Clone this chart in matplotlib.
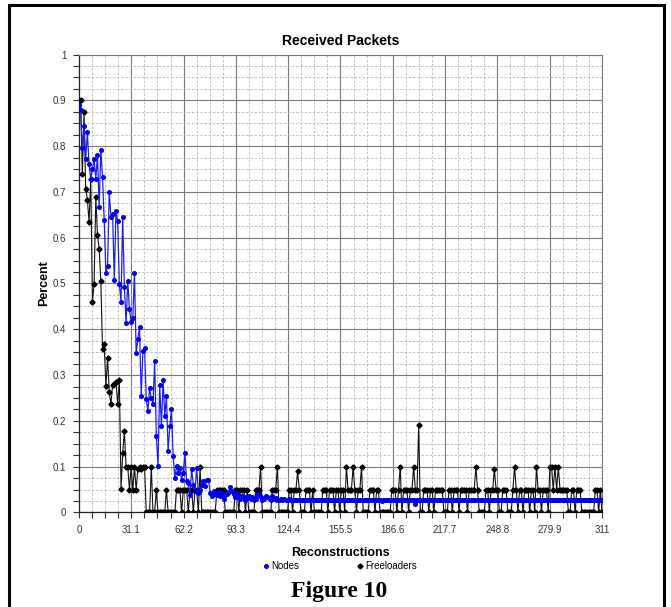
import matplotlib
matplotlib.use("Agg")
import numpy as np
import matplotlib.pyplot as plt
from matplotlib.patches import Rectangle
from matplotlib.lines import Line2D
from matplotlib.ticker import MultipleLocator, FixedLocator

plt.rcParams['font.family'] = ['Liberation Sans', 'DejaVu Sans']

# Nodes, reconstructions 0..82
nodes_head = [
    0.890, 0.878, 0.796, 0.843, 0.771, 0.830, 0.760, 0.729, 0.750, 0.771,
    0.729, 0.780, 0.667, 0.792, 0.732, 0.638, 0.523, 0.538, 0.699, 0.646,
    0.651, 0.507, 0.658, 0.636, 0.499, 0.459, 0.646, 0.492, 0.414, 0.505,
    0.444, 0.416, 0.425, 0.523, 0.348, 0.378, 0.405, 0.254, 0.352, 0.360,
    0.247, 0.221, 0.272, 0.250, 0.236, 0.330, 0.167, 0.101, 0.279, 0.188,
    0.290, 0.210, 0.254, 0.134, 0.188, 0.225, 0.123, 0.076, 0.101, 0.087,
    0.098, 0.072, 0.087, 0.130, 0.068, 0.065, 0.039, 0.094, 0.061, 0.047,
    0.098, 0.043, 0.050, 0.060, 0.068, 0.057, 0.072, 0.072, 0.043, 0.036,
    0.047, 0.040, 0.039,
]

# Nodes, reconstructions 83..311
nodes_tail = [
    0.045, 0.035, 0.042, 0.030, 0.038, 0.040, 0.045, 0.056, 0.048, 0.040,
    0.034, 0.042, 0.036, 0.030, 0.035, 0.033, 0.028, 0.032, 0.036, 0.030,
    0.034, 0.028, 0.030, 0.038, 0.040, 0.033, 0.028, 0.030, 0.036, 0.034,
    0.031, 0.027, 0.036, 0.030, 0.032, 0.028, 0.027, 0.029, 0.028, 0.030,
    0.028, 0.027, 0.029, 0.028, 0.027, 0.028, 0.028, 0.027, 0.028, 0.028,
    0.027, 0.028, 0.027, 0.027, 0.028, 0.027, 0.028, 0.027, 0.027, 0.028,
    0.027, 0.027, 0.028, 0.027, 0.027, 0.028, 0.027, 0.028, 0.027, 0.027,
    0.028, 0.027, 0.027, 0.028, 0.027, 0.027, 0.028, 0.028, 0.027, 0.027,
    0.028, 0.027, 0.027, 0.028, 0.027, 0.027, 0.028, 0.027, 0.027, 0.028,
    0.027, 0.027, 0.028, 0.027, 0.027, 0.028, 0.027, 0.024, 0.027, 0.028,
    0.027, 0.027, 0.028, 0.027, 0.027, 0.028, 0.027, 0.027, 0.028, 0.027,
    0.027, 0.028, 0.027, 0.027, 0.028, 0.027, 0.027, 0.019, 0.027, 0.028,
    0.027, 0.027, 0.028, 0.027, 0.027, 0.028, 0.027, 0.027, 0.028, 0.027,
    0.027, 0.028, 0.027, 0.027, 0.028, 0.027, 0.027, 0.028, 0.027, 0.027,
    0.028, 0.027, 0.027, 0.028, 0.027, 0.027, 0.028, 0.027, 0.027, 0.028,
    0.027, 0.027, 0.028, 0.027, 0.027, 0.028, 0.027, 0.027, 0.028, 0.027,
    0.027, 0.028, 0.027, 0.027, 0.028, 0.027, 0.027, 0.028, 0.027, 0.027,
    0.028, 0.027, 0.027, 0.028, 0.027, 0.027, 0.028, 0.027, 0.027, 0.028,
    0.027, 0.027, 0.028, 0.027, 0.027, 0.028, 0.027, 0.027, 0.028, 0.027,
    0.027, 0.028, 0.027, 0.027, 0.028, 0.027, 0.027, 0.028, 0.027, 0.027,
    0.028, 0.027, 0.027, 0.028, 0.027, 0.027, 0.028, 0.027, 0.027, 0.028,
    0.027, 0.027, 0.028, 0.027, 0.027, 0.028, 0.027, 0.027, 0.028, 0.027,
    0.027, 0.028, 0.027, 0.027, 0.028, 0.027, 0.027, 0.028, 0.027,
]

# Freeloaders, reconstructions 0..82
free_head = [
    0.900, 0.900, 0.738, 0.874, 0.707, 0.683, 0.635, 0.729, 0.460, 0.499,
    0.689, 0.606, 0.576, 0.505, 0.356, 0.367, 0.276, 0.338, 0.263, 0.236,
    0.279, 0.281, 0.285, 0.236, 0.290, 0.052, 0.129, 0.178, 0.100, 0.100,
    0.050, 0.100, 0.050, 0.100, 0.050, 0.095, 0.100, 0.095, 0.100, 0.100,
    0.000, 0.000, 0.000, 0.100, 0.000, 0.000, 0.050, 0.000, 0.000, 0.000,
    0.000, 0.000, 0.050, 0.000, 0.000, 0.000, 0.000, 0.000, 0.050, 0.050,
    0.050, 0.000, 0.050, 0.050, 0.050, 0.000, 0.050, 0.050, 0.000, 0.050,
    0.050, 0.000, 0.100, 0.000, 0.000, 0.000, 0.000, 0.000, 0.000, 0.000,
    0.000, 0.000, 0.050,
]

# Freeloaders, reconstructions 83..311
free_tail = [
    0.05, 0.05, 0.05, 0.05, 0, 0, 0, 0, 0, 0,
    0.05, 0.05, 0, 0.05, 0.05, 0.05, 0, 0.05, 0, 0,
    0, 0, 0.05, 0.05, 0.05, 0.1, 0, 0, 0, 0,
    0, 0, 0.05, 0.05, 0.05, 0.1, 0, 0, 0, 0,
    0, 0, 0.05, 0.05, 0, 0.05, 0.05, 0.09, 0.05, 0,
    0, 0, 0.05, 0.05, 0.05, 0, 0.05, 0, 0, 0,
    0, 0, 0.05, 0.05, 0.05, 0, 0.05, 0.05, 0.05, 0,
    0.05, 0.05, 0, 0.05, 0.05, 0, 0.1, 0.05, 0.05, 0.05,
    0.1, 0.05, 0, 0.05, 0.05, 0.1, 0, 0, 0, 0,
    0.05, 0.05, 0.05, 0, 0.05, 0.05, 0, 0, 0, 0,
    0, 0, 0, 0.05, 0.05, 0.05, 0, 0.05, 0.1, 0,
    0.05, 0.05, 0.05, 0, 0.05, 0.05, 0.1, 0.05, 0.05, 0.19,
    0, 0, 0.05, 0.05, 0.05, 0, 0.05, 0.05, 0, 0.05,
    0.05, 0.05, 0.05, 0.05, 0, 0, 0, 0.05, 0.05, 0,
    0.05, 0.05, 0.05, 0, 0.05, 0.05, 0.05, 0.05, 0, 0.05,
    0.05, 0.05, 0.05, 0.1, 0.05, 0, 0, 0, 0, 0.05,
    0.05, 0, 0.05, 0.05, 0.095, 0.05, 0.05, 0, 0, 0.05,
    0.05, 0.05, 0, 0, 0, 0.05, 0.1, 0.05, 0, 0.05,
    0.05, 0, 0.05, 0.05, 0.05, 0, 0.05, 0.05, 0, 0.1,
    0.05, 0.05, 0, 0.05, 0.05, 0.05, 0, 0.1, 0.1, 0.05,
    0.1, 0.05, 0.1, 0.05, 0.05, 0.05, 0.05, 0.05, 0, 0,
    0.05, 0.05, 0, 0.05, 0.05, 0.05, 0, 0, 0, 0,
    0, 0, 0, 0, 0.05, 0.05, 0, 0.05, 0,
]

xtick_labels = ["0", "31.1", "62.2", "93.3", "124.4", "155.5", "186.6",
                "217.7", "248.8", "279.9", "311"]
ytick_labels = ["0", "0.1", "0.2", "0.3", "0.4", "0.5", "0.6", "0.7",
                "0.8", "0.9", "1"]

nodes = nodes_head + nodes_tail
freeloaders = free_head + free_tail
recon = np.arange(len(nodes))

fig = plt.figure(figsize=(6.71, 6.07), dpi=100)
ax = fig.add_axes([0.1177, 0.1557, 0.7795, 0.7545])

ax.plot(recon, freeloaders, color="#111111", lw=0.8, marker="D", ms=2.6,
        mec="#000000", mfc="#000000", zorder=3)
ax.plot(recon, nodes, color="#1f1fe8", lw=0.9, marker="o", ms=2.6,
        mec="#0000ee", mfc="#0000ee", zorder=4)

xt = [float(s) for s in xtick_labels]
yt = [float(s) for s in ytick_labels]
ax.set_xlim(0, 311)
ax.set_ylim(0, 1)
ax.xaxis.set_major_locator(FixedLocator(xt))
ax.yaxis.set_major_locator(FixedLocator(yt))
ax.set_xticklabels(xtick_labels)
ax.set_yticklabels(ytick_labels)
ax.xaxis.set_minor_locator(MultipleLocator(7.775))
ax.yaxis.set_minor_locator(MultipleLocator(0.025))

ax.grid(which="major", color="#7a7a7a", lw=0.8, ls="-")
ax.grid(which="minor", color="#b8b8b8", lw=0.6, ls=(0, (3, 2)))
ax.set_axisbelow(True)

ax.tick_params(which="both", direction="out", length=4, width=0.8,
               color="#333333", labelsize=7, labelcolor="#333333", pad=5)
for s in ["left", "bottom"]:
    ax.spines[s].set_color("#222222")
    ax.spines[s].set_linewidth(0.9)
for s in ["top", "right"]:
    ax.spines[s].set_color("#7a7a7a")
    ax.spines[s].set_linewidth(0.8)

ax.set_title("Received Packets", fontsize=10, fontweight="bold", pad=7)
ax.set_xlabel("Reconstructions", fontsize=9, fontweight="bold", labelpad=9)
ax.set_ylabel("Percent", fontsize=9, fontweight="bold", labelpad=2)

handles = [
    Line2D([], [], ls="none", marker="o", ms=2.6, color="#0000ee"),
    Line2D([], [], ls="none", marker="D", ms=2.6, color="#000000"),
]
fig.legend(handles, ["Nodes", "Freeloaders"], loc="center",
           bbox_to_anchor=(0.507, 0.067), ncol=2, frameon=False,
           fontsize=7, handlelength=0.6, handletextpad=0.2,
           columnspacing=6.0)

fig.text(0.506, 0.026, "Figure 10", ha="center", va="center",
         fontsize=17, fontweight="bold", family="Liberation Serif")

fig.patches.append(Rectangle((8.5 / 671, -0.02), (664 - 8.5) / 671,
                             1.02 - 4.5 / 607, transform=fig.transFigure,
                             fill=False, lw=2.2, ec="#000000"))

fig.savefig("out.png", dpi=100)
